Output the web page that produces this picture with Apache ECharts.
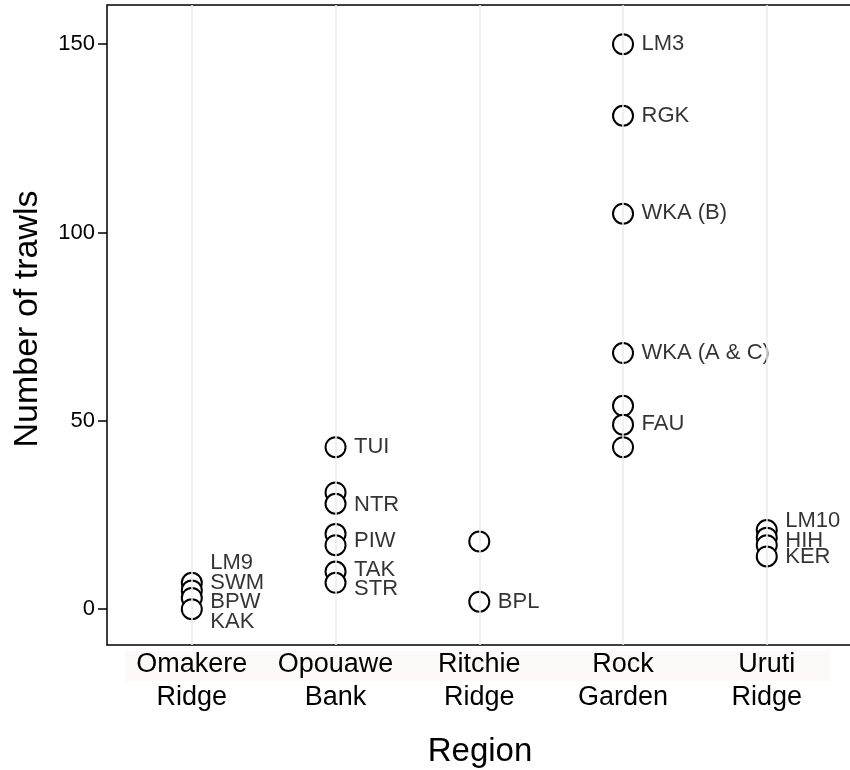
<!DOCTYPE html>
<html>
<head>
<meta charset="utf-8">
<script src="https://cdn.jsdelivr.net/npm/echarts@6/dist/echarts.min.js"></script>
<style>
html,body{margin:0;padding:0;background:#fff;}
#chart{width:850px;height:770px;}
</style>
</head>
<body>
<div id="chart"></div>
<script>
// ---- data ----
const regions = ['Omakere\nRidge', 'Opouawe\nBank', 'Ritchie\nRidge', 'Rock\nGarden', 'Uruti\nRidge'];
const omakereTrawls = [7, 5, 3, 0];
const opouaweTrawls = [43, 31, 28, 20, 17, 10, 7];
const ritchieTrawls = [18, 2];
const rockGardenTrawls = [150, 131, 105, 68, 54, 49, 43];
const urutiTrawls = [21, 19, 17, 14];
const trawlsByRegion = [omakereTrawls, opouaweTrawls, ritchieTrawls, rockGardenTrawls, urutiTrawls];

// site labels (repelled text positions, in trawl units)
const labelText   = ['LM9', 'SWM', 'BPW', 'KAK',
                     'TUI', 'NTR', 'PIW', 'TAK', 'STR',
                     'BPL',
                     'LM3', 'RGK', 'WKA (B)', 'WKA (A & C)', 'FAU',
                     'LM10', 'HIH', 'KER'];
const labelRegion = [0, 0, 0, 0,
                     1, 1, 1, 1, 1,
                     2,
                     3, 3, 3, 3, 3,
                     4, 4, 4];
const labelY      = [12.2, 6.9, 1.9, -3.5,
                     43, 27.6, 18.1, 10.4, 5.3,
                     1.9,
                     150, 130.9, 105.1, 68, 49.1,
                     23.4, 18.1, 13.8];
const yTicks = [0, 50, 100, 150];

// ---- build ----
const pointData = [];
trawlsByRegion.forEach((vals, i) => {
  vals.forEach(v => pointData.push([i + 1, v]));
});
const labelData = labelText.map((t, k) => ({ name: t, value: [labelRegion[k] + 1, labelY[k]] }));
const xTickValues = regions.map((r, i) => i + 1);
const narrow = '"Liberation Sans Narrow", "Arial Narrow", "Liberation Sans", Arial, sans-serif';
const sans = '"Liberation Sans", Arial, sans-serif';

const chart = echarts.init(document.getElementById('chart'), null, { renderer: 'canvas' });
chart.setOption({
  animation: false,
  backgroundColor: '#ffffff',
  graphic: [{
    type: 'rect', z: -10, silent: true,
    shape: { x: 125, y: 651, width: 705, height: 30 },
    style: { fill: '#fdf9f8' }
  }],
  grid: {
    left: 107, top: 5, width: 746, height: 640,
    outerBoundsMode: 'none', containLabel: false,
    show: true, borderColor: '#000', borderWidth: 1.5, backgroundColor: 'transparent'
  },
  xAxis: {
    type: 'value', min: 0.41, max: 5.6,
    name: 'Region', nameLocation: 'middle', nameGap: 90,
    nameTextStyle: { fontFamily: narrow, fontSize: 33, color: '#000' },
    axisLine: { show: false },
    axisTick: { show: false },
    splitLine: { show: false },
    axisLabel: {
      customValues: xTickValues,
      formatter: v => regions[Math.round(v) - 1] || '',
      fontFamily: narrow,
      fontSize: 27, lineHeight: 33, color: '#000', margin: 3
    }
  },
  yAxis: {
    type: 'value', min: -9.5, max: 160.4,
    name: 'Number of trawls', nameLocation: 'middle', nameGap: 62,
    nameTextStyle: { fontFamily: sans, fontSize: 34, color: '#000', padding: [0, 0, 0, 12] },
    axisLine: { show: false },
    axisTick: { show: true, customValues: yTicks, length: 9, lineStyle: { color: '#000', width: 1.5 } },
    splitLine: { show: false },
    axisLabel: {
      customValues: yTicks,
      fontFamily: sans,
      fontSize: 22, color: '#000', margin: 12
    }
  },
  series: [
    {
      type: 'scatter', z: 1, data: [], silent: true,
      markLine: {
        silent: true, symbol: 'none', animation: false,
        label: { show: false },
        lineStyle: { color: '#ebebeb', width: 1.5, type: 'solid' },
        data: xTickValues.map(x => ({ xAxis: x }))
      }
    },
    {
      type: 'scatter', z: 3, data: pointData,
      symbol: 'circle', symbolSize: 20,
      itemStyle: { color: '#ffffff', borderColor: '#000', borderWidth: 2, opacity: 1 }
    },
    {
      type: 'scatter', z: 4, data: labelData,
      symbolSize: 1, silent: true,
      itemStyle: { color: 'rgba(0,0,0,0)', borderWidth: 0 },
      label: {
        show: true, position: 'right', distance: 18,
        formatter: p => p.name,
        fontFamily: sans, fontSize: 22, color: '#000'
      },
      labelLayout: { hideOverlap: false }
    }
  ]
});
</script>
</body>
</html>
